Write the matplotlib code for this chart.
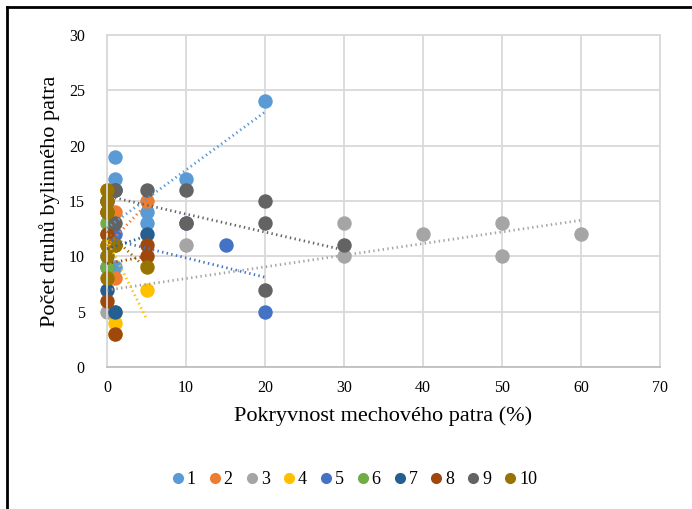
import numpy as np
import matplotlib.pyplot as plt
from matplotlib.lines import Line2D

plt.rcParams['font.family'] = ['Liberation Serif', 'DejaVu Serif']

# data per series (cover of moss layer in %, number of herb species)
x1 = [0, 1, 1, 1, 5, 5, 10, 20]
y1 = [10, 19, 17, 9, 14, 13, 17, 24]
x2 = [0, 0, 1, 1, 5]
y2 = [11, 12, 14, 8, 15]
x3 = [0, 1, 10, 30, 30, 40, 50, 50, 60]
y3 = [5, 5, 11, 13, 10, 12, 13, 10, 12]
x4 = [0, 0, 0, 1, 1, 5]
y4 = [16, 15, 14, 4, 3, 7]
x5 = [0, 1, 10, 15, 20]
y5 = [9, 12, 13, 11, 5]
x6 = [0, 0]
y6 = [13, 9]
x7 = [0, 0, 1, 1, 5]
y7 = [7, 15, 5, 16, 12]
x8 = [0, 0, 0, 1, 1, 5, 5]
y8 = [14, 12, 6, 3, 11, 11, 10]
x9 = [1, 1, 5, 10, 10, 20, 20, 20, 30]
y9 = [16, 13, 16, 16, 13, 15, 13, 7, 11]
x10 = [0, 0, 0, 0, 0, 0, 1, 5]
y10 = [16, 15, 14, 11, 10, 8, 11, 9]

labels = ['1', '2', '3', '4', '5', '6', '7', '8', '9', '10']
colors = ['#5B9BD5', '#ED7D31', '#A5A5A5', '#FFC000', '#4472C4',
          '#70AD47', '#255E91', '#9E480E', '#636363', '#997300']

xs = [x1, x2, x3, x4, x5, x6, x7, x8, x9, x10]
ys = [y1, y2, y3, y4, y5, y6, y7, y8, y9, y10]

fig = plt.figure(figsize=(6.92, 5.09), dpi=100)
ax = fig.add_axes([107/692, 1-367/509, 553/692, 332/509])

for x, y, c in zip(xs, ys, colors):
    ax.scatter(x, y, s=108, color=c, zorder=2, linewidths=0, clip_on=False)

# linear trendlines over each series' x range
for x, y, c in zip(xs, ys, colors):
    x = np.array(x, float)
    y = np.array(y, float)
    if x.min() == x.max():
        continue
    k, q = np.polyfit(x, y, 1)
    xx = np.array([x.min(), x.max()])
    ax.plot(xx, k*xx + q, color=c, lw=2.0, linestyle=(0, (0.5, 1.2)),
            dash_capstyle='butt', zorder=3, clip_on=False)

ax.set_xlim(0, 70)
ax.set_ylim(0, 30)
ax.set_xticks(range(0, 71, 10))
ax.set_yticks(range(0, 31, 5))
ax.grid(True, color='#D9D9D9', lw=1.3)
ax.set_axisbelow(True)
for s in ax.spines.values():
    s.set_color('#D9D9D9')
    s.set_linewidth(1.3)
ax.spines['bottom'].set_color('#BFBFBF')
ax.tick_params(axis='y', length=0, labelsize=11.5, pad=16, colors='#000000')
ax.tick_params(axis='x', length=0, labelsize=11.5, pad=9, colors='#000000')

ax.set_xlabel('Pokryvnost mechového patra (%)', fontsize=16, labelpad=8)
ax.set_ylabel('Počet druhů bylinného patra', fontsize=16, labelpad=6)

handles = [Line2D([], [], marker='o', linestyle='', markersize=8,
                  markerfacecolor=c, markeredgewidth=0) for c in colors]
fig.legend(handles, labels, loc='center', bbox_to_anchor=(0.51, 0.057),
           ncol=10, frameon=False, fontsize=13, handletextpad=0.0,
           columnspacing=0.55, handlelength=1.0)

# outer frame (only top and left edges visible in the crop)
fig.add_artist(Line2D([7/692, 7/692], [0, 1-7/509], color='black', lw=2,
                      transform=fig.transFigure))
fig.add_artist(Line2D([7/692, 1], [1-7/509, 1-7/509], color='black', lw=2,
                      transform=fig.transFigure))

fig.savefig('out.png', dpi=100)
